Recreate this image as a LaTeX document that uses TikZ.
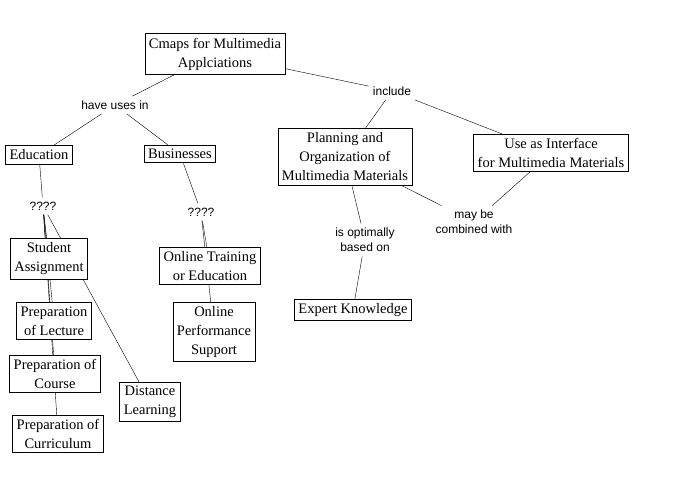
\documentclass[tikz,border=0pt]{standalone}
\usepackage{fontspec}
\setmainfont{Liberation Serif}
\newfontfamily\linkfont{Liberation Sans}
\usetikzlibrary{backgrounds}

\tikzset{
  concept/.style={draw, fill=white, align=center, inner xsep=4pt, inner ysep=4pt,
    font=\fontsize{14.5}{19}\selectfont},
  link/.style={align=center, inner sep=4pt, font=\linkfont\fontsize{12}{15}\selectfont},
}

\begin{document}
\begin{tikzpicture}[x=1pt, y=-1pt, line width=0.9pt]
  \useasboundingbox (0,0) rectangle (676,495);
  % concepts
  \node[concept] (cmaps) at (215,54) {Cmaps for Multimedia\\Applciations};
  \node[concept] (edu) at (39,155) {Education};
  \node[concept] (bus) at (180,154) {Businesses};
  \node[concept] (plan) at (345,157) {Planning and\\Organization of\\Multimedia Materials};
  \node[concept] (iface) at (551,153) {Use as Interface\\for Multimedia Materials};
  \node[concept] (student) at (49,259) {Student\\Assignment};
  \node[concept] (online) at (210,266) {Online Training\\or Education};
  \node[concept] (lecture) at (54,321) {Preparation\\of Lecture};
  \node[concept] (perf) at (214,332) {Online\\Performance\\Support};
  \node[concept] (expert) at (353,310) {Expert Knowledge};
  \node[concept] (course) at (55,374) {Preparation of\\Course};
  \node[concept] (distance) at (150,402) {Distance\\Learning};
  \node[concept] (curric) at (58,434) {Preparation of\\Curriculum};
  % linking phrases
  \node[link] (uses) at (115,105) {have uses in};
  \node[link] (incl) at (392,91) {include};
  \node[link] (qleft) at (43,206) {????};
  \node[link] (qright) at (201,212) {????};
  \node[link] (based) at (365,240) {is optimally\\based on};
  \node[link] (comb) at (474,222) {may be\\combined with};
  % connectors
  \begin{scope}[on background layer]
    \foreach \a/\b in {cmaps/uses, uses/edu, uses/bus, cmaps/incl, incl/plan, incl/iface,
      edu/qleft, qleft/student, qleft/lecture, qleft/course, qleft/curric, qleft/distance,
      bus/qright, qright/online, qright/perf,
      plan/based, based/expert, plan/comb, comb/iface}
      \draw (\a) -- (\b);
  \end{scope}
\end{tikzpicture}
\end{document}
